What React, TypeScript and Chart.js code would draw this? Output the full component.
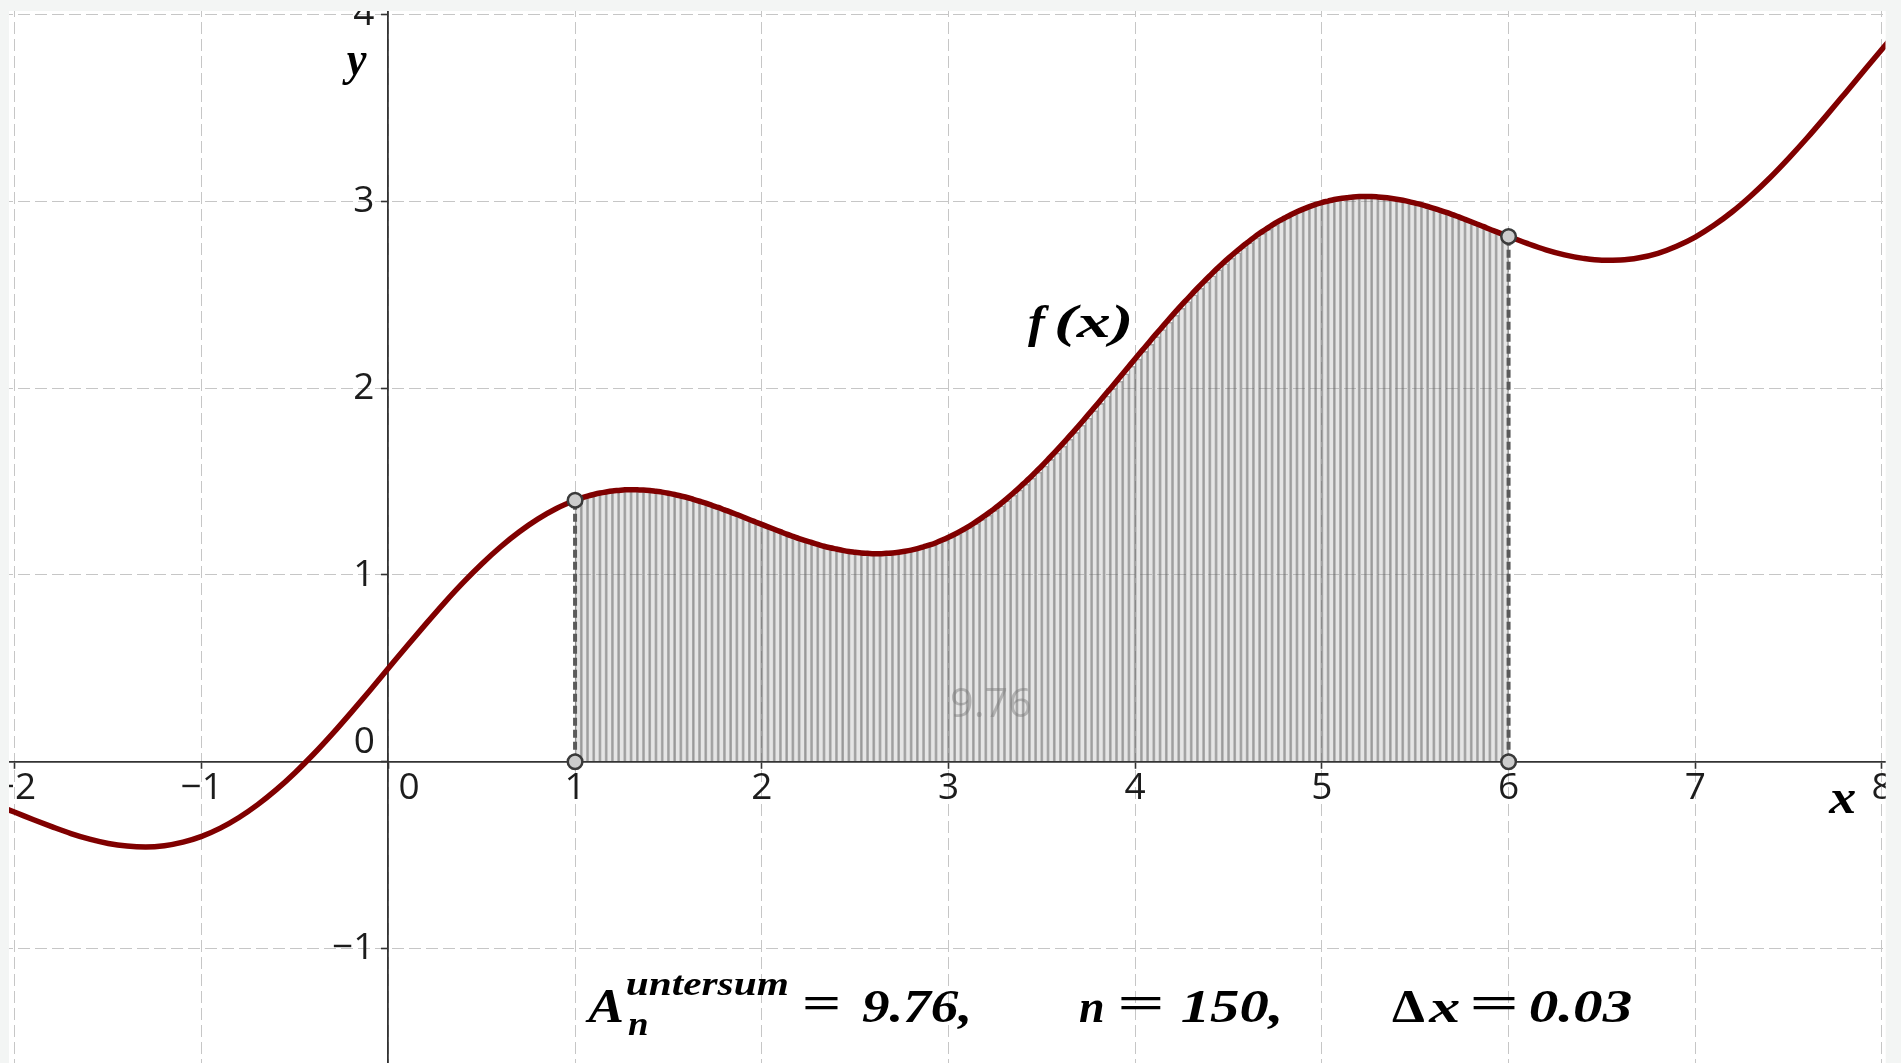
import React, { useEffect, useRef } from 'react';
import { Chart, registerables } from 'chart.js';

Chart.register(...registerables);

// ---------------- data ----------------
// f(x) samples left of the summation interval
const leftX = [-2.1, -2.0, -1.9, -1.8, -1.7, -1.6, -1.5, -1.4, -1.3, -1.2, -1.1, -1.0, -0.9, -0.8, -0.7, -0.6, -0.5, -0.4, -0.3, -0.2, -0.1, 0, 0.1, 0.2, 0.3, 0.4, 0.5, 0.6, 0.7, 0.8, 0.9];
const leftY = [-0.232, -0.271, -0.311, -0.349, -0.385, -0.415, -0.438, -0.452, -0.457, -0.450, -0.431, -0.400, -0.356, -0.299, -0.230, -0.150, -0.059, 0.041, 0.149, 0.263, 0.380, 0.500, 0.620, 0.737, 0.851, 0.959, 1.059, 1.150, 1.230, 1.299, 1.356];

// summation interval [a, b] split into n strips (as printed: n = 150)
const sumStart = 1;
const sumEnd = 6;
const sumN = 150;
// f(x) at every partition point x_k = a + k·Δx, k = 0..n
const sumY = [
  1.400, 1.412, 1.422, 1.431, 1.439, 1.445, 1.450, 1.453, 1.456, 1.457,
  1.456, 1.455, 1.452, 1.448, 1.444, 1.438, 1.431, 1.423, 1.415, 1.405,
  1.395, 1.385, 1.373, 1.362, 1.349, 1.337, 1.324, 1.311, 1.297, 1.284,
  1.271, 1.258, 1.245, 1.232, 1.219, 1.207, 1.195, 1.184, 1.174, 1.164,
  1.154, 1.146, 1.139, 1.132, 1.126, 1.122, 1.118, 1.116, 1.114, 1.114,
  1.116, 1.118, 1.122, 1.127, 1.133, 1.141, 1.151, 1.161, 1.173, 1.187,
  1.202, 1.218, 1.236, 1.255, 1.276, 1.298, 1.321, 1.346, 1.371, 1.398,
  1.427, 1.456, 1.487, 1.518, 1.551, 1.584, 1.619, 1.654, 1.690, 1.727,
  1.764, 1.802, 1.841, 1.880, 1.919, 1.959, 1.998, 2.038, 2.078, 2.118,
  2.158, 2.198, 2.237, 2.277, 2.315, 2.354, 2.392, 2.429, 2.465, 2.501,
  2.536, 2.570, 2.603, 2.636, 2.667, 2.697, 2.726, 2.754, 2.780, 2.806,
  2.830, 2.852, 2.874, 2.894, 2.912, 2.930, 2.946, 2.960, 2.973, 2.985,
  2.995, 3.003, 3.011, 3.017, 3.021, 3.025, 3.027, 3.027, 3.027, 3.025,
  3.022, 3.018, 3.013, 3.007, 3.000, 2.992, 2.984, 2.974, 2.964, 2.953,
  2.942, 2.930, 2.918, 2.905, 2.892, 2.879, 2.866, 2.852, 2.839, 2.826,
  2.813,
];

// f(x) samples right of the summation interval
const rightX = [6.1, 6.2, 6.3, 6.4, 6.5, 6.6, 6.7, 6.8, 6.9, 7.0, 7.1, 7.2, 7.3, 7.4, 7.5, 7.6, 7.7, 7.8, 7.9, 8.0, 8.1];
const rightY = [2.776, 2.742, 2.715, 2.696, 2.686, 2.687, 2.699, 2.723, 2.761, 2.810, 2.873, 2.947, 3.033, 3.128, 3.232, 3.342, 3.458, 3.577, 3.697, 3.816, 3.932];

// printed values
const areaText = '9.76';
const nText = '150';
const dxText = '0.03';

// ---------------- tables built from the data ----------------
const dx = (sumEnd - sumStart) / sumN;
const sumX = sumY.map((_, k) => sumStart + k * dx);
const curvePoints = [
  ...leftX.map((x, i) => ({ x, y: leftY[i] })),
  ...sumX.map((x, k) => ({ x, y: sumY[k] })),
  ...rightX.map((x, i) => ({ x, y: rightY[i] })),
];
const barPoints = sumY.slice(0, sumN).map((y, k) => ({ x: sumX[k] + dx / 2, y: Math.min(y, sumY[k + 1]) }));
const fa = sumY[0];
const fb = sumY[sumN];

// ---------------- styles ----------------
const TICK_FAMILY = '"Open Sans", sans-serif';
const TICK_SIZE = 37;
const TICK_COLOR = '#1c1c1c';
const AXIS_COLOR = '#333333';
const GRID_COLOR = '#c6c6c6';
const BAND_COLOR = '#f3f5f4';
const SERIF = '"Liberation Serif", "Times New Roman", serif';

const fmt = (v: number) => (v < 0 ? '\u2212' + Math.abs(v) : String(v));

function fitText(ctx: CanvasRenderingContext2D, text: string, left: number, right: number, baseline: number, font: string, color: string) {
  ctx.save();
  ctx.font = font;
  ctx.fillStyle = color;
  ctx.textAlign = 'left';
  ctx.textBaseline = 'alphabetic';
  const m = ctx.measureText(text);
  const ink = m.actualBoundingBoxLeft + m.actualBoundingBoxRight;
  const sx = ink > 0 ? (right - left) / ink : 1;
  ctx.translate(left + m.actualBoundingBoxLeft * sx, baseline);
  ctx.scale(sx, 1);
  ctx.fillText(text, 0, 0);
  ctx.restore();
}

const overlayPlugin = {
  id: 'overlay',
  afterDraw(chart: any) {
    const { ctx, chartArea, scales } = chart;
    const xs = scales.x;
    const ys = scales.y;
    const ox = xs.getPixelForValue(0);
    const oy = ys.getPixelForValue(0);
    ctx.save();

    // y tick labels (left of the axis) and the two origin labels
    ctx.font = `${TICK_SIZE}px ${TICK_FAMILY}`;
    ctx.fillStyle = TICK_COLOR;
    ctx.textAlign = 'right';
    ctx.textBaseline = 'middle';
    ys.ticks.forEach((t: any) => {
      if (t.value !== 0) ctx.fillText(fmt(t.value), ox - 14, ys.getPixelForValue(t.value));
    });
    ctx.fillText('0', ox - 13.4, oy - 19.2);
    ctx.textAlign = 'center';
    ctx.fillText('0', ox + 20.6, oy + 26.3);

    // area value inside the strips
    fitText(ctx, areaText, 952, 1030, 717, `40px ${TICK_FAMILY}`, 'rgba(120,120,120,0.45)');

    // axis names and function label
    const bi = (s: number) => `italic bold ${s}px ${SERIF}`;
    const up = (s: number) => `bold ${s}px ${SERIF}`;
    fitText(ctx, 'y', 342, 367, 75, bi(48), '#000');
    fitText(ctx, 'x', 1828, 1855, 813, bi(48), '#000');
    fitText(ctx, 'f', 1028, 1050, 337, bi(46), '#000');
    fitText(ctx, '(x)', 1057, 1130, 337, bi(46), '#000');

    // formula line
    const base = 1022;
    fitText(ctx, 'A', 585, 623, base, bi(48), '#000');
    fitText(ctx, 'untersum', 627, 787, 995, bi(34), '#000');
    fitText(ctx, 'n', 628, 647, 1035, bi(33), '#000');
    fitText(ctx, '=', 805, 838, base - 4, up(46), '#000');
    fitText(ctx, areaText + ',', 862, 968, base, bi(46), '#000');
    fitText(ctx, 'n', 1079, 1103, base, bi(46), '#000');
    fitText(ctx, '=', 1121, 1161, base - 4, up(46), '#000');
    fitText(ctx, nText + ',', 1182, 1279, base, bi(46), '#000');
    fitText(ctx, '\u0394', 1392, 1425, base, up(46), '#000');
    fitText(ctx, 'x', 1428, 1459, base, bi(46), '#000');
    fitText(ctx, '=', 1473, 1515, base - 4, up(46), '#000');
    fitText(ctx, dxText, 1530, 1631, base, bi(46), '#000');

    // window bands outside the drawing pad
    ctx.fillStyle = BAND_COLOR;
    ctx.fillRect(0, 0, chart.width, chartArea.top);
    ctx.fillRect(0, 0, chartArea.left, chart.height);
    ctx.fillRect(chartArea.right, 0, chart.width - chartArea.right, chart.height);
    ctx.restore();
  },
};

const zeroPad = (scale: any) => {
  scale.paddingLeft = 0;
  scale.paddingRight = 0;
  scale.paddingTop = 0;
  scale.paddingBottom = 0;
};

export default function App() {
  const ref = useRef<HTMLCanvasElement>(null);

  useEffect(() => {
    document.body.style.margin = '0';
    document.body.style.overflow = 'hidden';
    const canvas = ref.current!;
    const gridOpts = { color: GRID_COLOR, lineWidth: 1, tickLength: 6, tickColor: AXIS_COLOR, tickWidth: 1.6, drawTicks: true, offset: false };
    const chart = new Chart(canvas, {
      type: 'scatter',
      data: {
        datasets: [
          {
            type: 'scatter',
            data: [{ x: sumStart, y: 0 }, { x: sumStart, y: fa }, { x: sumEnd, y: 0 }, { x: sumEnd, y: fb }],
            pointRadius: 7.3,
            pointBackgroundColor: '#cccccc',
            pointBorderColor: '#3a3a3a',
            pointBorderWidth: 2.5,
            order: 0,
          },
          {
            type: 'line',
            data: curvePoints,
            showLine: true,
            borderColor: '#800000',
            borderWidth: 5.5,
            pointRadius: 0,
            cubicInterpolationMode: 'monotone',
            fill: false,
            order: 1,
          },
          {
            type: 'line',
            data: [{ x: sumStart, y: 0 }, { x: sumStart, y: fa }],
            showLine: true,
            borderColor: '#5a5a5a',
            borderWidth: 4,
            borderDash: [8, 4],
            pointRadius: 0,
            tension: 0,
            order: 2,
          },
          {
            type: 'line',
            data: [{ x: sumEnd, y: 0 }, { x: sumEnd, y: fb }],
            showLine: true,
            borderColor: '#5a5a5a',
            borderWidth: 4,
            borderDash: [8, 4],
            pointRadius: 0,
            tension: 0,
            order: 2,
          },
          {
            type: 'bar',
            data: barPoints,
            backgroundColor: 'rgba(150,150,150,0.25)',
            borderColor: 'rgba(100,100,100,0.55)',
            borderWidth: { left: 1, right: 1, top: 1, bottom: 0 },
            barPercentage: 1,
            categoryPercentage: 1,
            order: 3,
          },
        ],
      } as any,
      options: {
        responsive: false,
        animation: false,
        events: [],
        layout: { padding: { left: 9, top: 11, right: 15.3, bottom: 0 }, autoPadding: false },
        plugins: { legend: { display: false }, tooltip: { enabled: false }, title: { display: false } },
        scales: {
          x: {
            type: 'linear',
            min: -2.032,
            max: 8.02,
            offset: false,
            position: { y: 0 },
            ticks: {
              stepSize: 1,
              includeBounds: false,
              autoSkip: false,
              maxRotation: 0,
              minRotation: 0,
              padding: 0,
              color: TICK_COLOR,
              font: { family: TICK_FAMILY, size: TICK_SIZE, lineHeight: 1.1 },
              callback: (v: any) => (Number(v) === 0 ? '' : fmt(Number(v))),
            },
            grid: gridOpts,
            border: { display: true, color: AXIS_COLOR, width: 1.8, dash: [12, 5], dashOffset: 6 },
            afterFit: zeroPad,
          },
          y: {
            type: 'linear',
            min: -1.614,
            max: 4.021,
            offset: false,
            position: { x: 0 },
            ticks: { stepSize: 1, includeBounds: false, display: false },
            grid: gridOpts,
            border: { display: true, color: AXIS_COLOR, width: 1.8, dash: [12, 5], dashOffset: 8 },
            afterFit: zeroPad,
          },
        },
      } as any,
      plugins: [overlayPlugin],
    });
    return () => chart.destroy();
  }, []);

  return (
    <div style={{ position: 'absolute', left: 0, top: 0, width: 1901, height: 1063, background: '#ffffff' }}>
      <canvas ref={ref} width={1901} height={1063} style={{ display: 'block' }} />
    </div>
  );
}
